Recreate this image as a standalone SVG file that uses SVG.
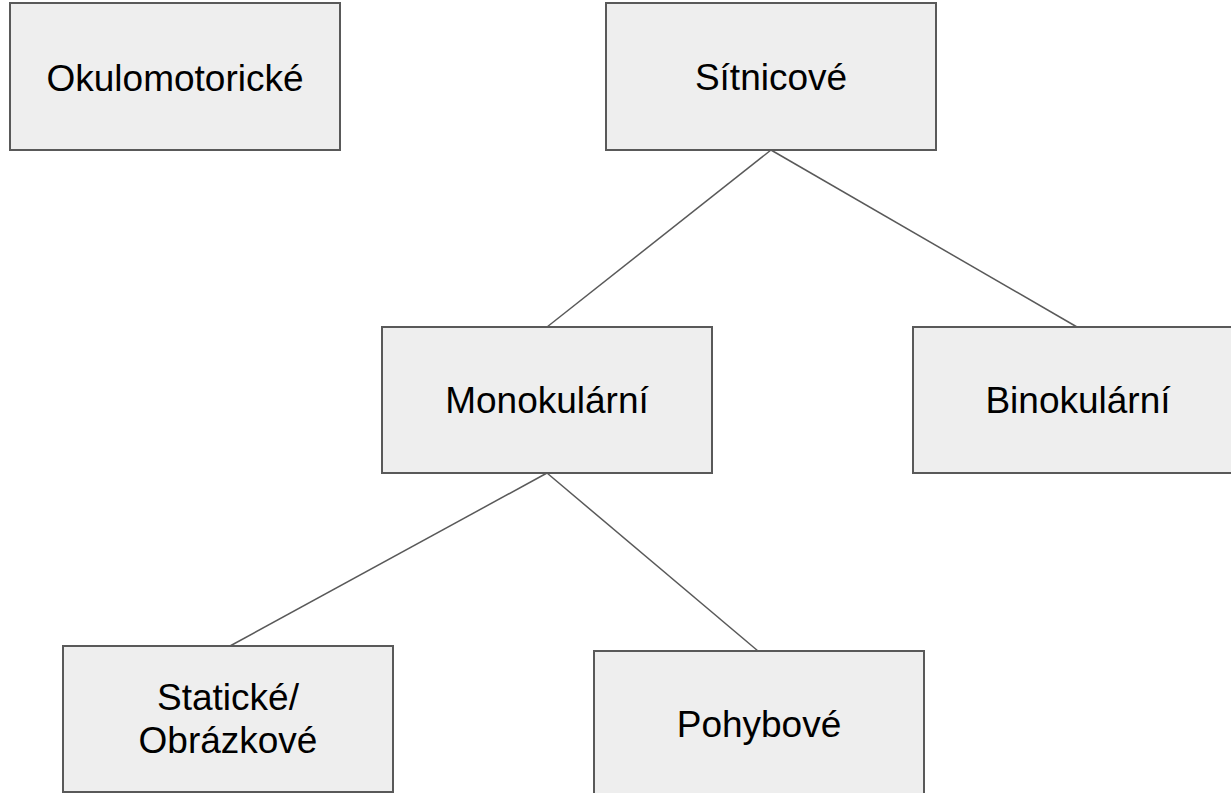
<svg xmlns="http://www.w3.org/2000/svg" width="1231" height="793" viewBox="0 0 1231 793">
<style>
.box{fill:#eeeeee;stroke:#595959;stroke-width:2}
.lbl{font-family:"Liberation Sans",Arial,sans-serif;font-size:37px;fill:#000;text-anchor:middle}
.edge{stroke:#595959;stroke-width:1.5;fill:none}
</style>
<rect width="1231" height="793" fill="#ffffff"/>
<g id="connectors">
<line class="edge" x1="771" y1="150" x2="547" y2="327"/>
<line class="edge" x1="771" y1="150" x2="1077" y2="327"/>
<line class="edge" x1="547" y1="473" x2="230" y2="646"/>
<line class="edge" x1="547" y1="473" x2="758" y2="651"/>
</g>
<g id="okulomotoricke">
<rect class="box" x="10" y="3" width="330" height="147"/>
<text class="lbl" x="175" y="91">Okulomotorické</text>
</g>
<g id="sitnicove">
<rect class="box" x="606" y="3" width="330" height="147"/>
<text class="lbl" x="771" y="90">Sítnicové</text>
</g>
<g id="monokularni">
<rect class="box" x="382" y="327" width="330" height="146"/>
<text class="lbl" x="547" y="413">Monokulární</text>
</g>
<g id="binokularni">
<rect class="box" x="913" y="327" width="330" height="146"/>
<text class="lbl" x="1078" y="413">Binokulární</text>
</g>
<g id="staticke">
<rect class="box" x="63" y="646" width="330" height="146"/>
<text class="lbl" x="228" y="710">Statické/</text>
<text class="lbl" x="228" y="753">Obrázkové</text>
</g>
<g id="pohybove">
<rect class="box" x="594" y="651" width="330" height="146"/>
<text class="lbl" x="759" y="737">Pohybové</text>
</g>
</svg>
